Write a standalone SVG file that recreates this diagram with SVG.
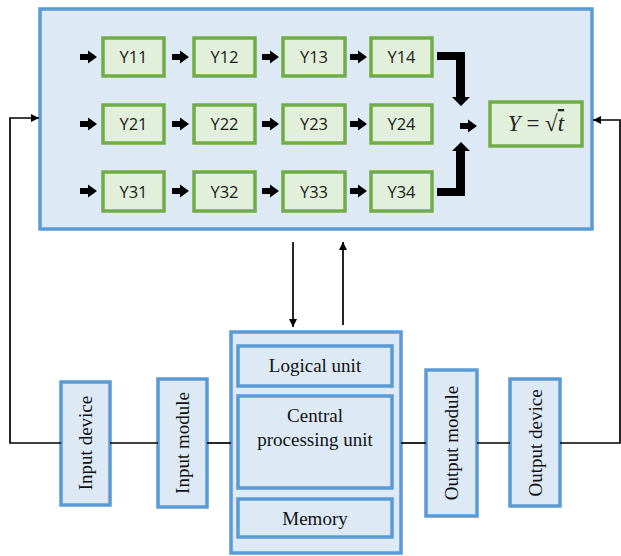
<svg xmlns="http://www.w3.org/2000/svg" width="621" height="556" viewBox="0 0 621 556">
<defs>
<style>
.blue{fill:#DDEAF6;stroke:#5B9BD5;stroke-width:3.5}
.green{fill:#E2EFDA;stroke:#70AD47;stroke-width:3.5}
.ylab{font-family:"Open Sans","Liberation Sans",sans-serif;font-size:16.5px;fill:#1a1a1a;text-anchor:middle}
.serif{font-family:"Liberation Serif","DejaVu Serif",serif;font-size:19px;fill:#111;text-anchor:middle}
.line{fill:none;stroke:#000;stroke-width:1.7}
.blk{fill:#000}
</style>
<marker id="ah" viewBox="0 0 10 10" refX="10" refY="5" markerWidth="8" markerHeight="8" orient="auto" markerUnits="userSpaceOnUse"><path d="M0,0 L10,5 L0,10 z" fill="#000"/></marker>
<path id="sa" d="M0,-3 L8,-3 L8,-6.5 L17,0 L8,6.5 L8,3 L0,3 z"/>
</defs>
<rect width="621" height="556" fill="#fff"/>

<g id="top-panel">
<rect class="blue" x="40" y="9" width="552" height="220"/>
</g>

<g id="Y11"><rect class="green" x="103" y="38" width="61" height="38"/><text class="ylab" x="133.5" y="63">Y11</text></g>
<g id="Y12"><rect class="green" x="194" y="38" width="61" height="38"/><text class="ylab" x="224.5" y="63">Y12</text></g>
<g id="Y13"><rect class="green" x="283" y="38" width="62" height="38"/><text class="ylab" x="314" y="63">Y13</text></g>
<g id="Y14"><rect class="green" x="371" y="38" width="61" height="38"/><text class="ylab" x="401.5" y="63">Y14</text></g>
<g id="Y21"><rect class="green" x="103" y="105" width="61" height="38"/><text class="ylab" x="133.5" y="130">Y21</text></g>
<g id="Y22"><rect class="green" x="194" y="105" width="61" height="38"/><text class="ylab" x="224.5" y="130">Y22</text></g>
<g id="Y23"><rect class="green" x="283" y="105" width="62" height="38"/><text class="ylab" x="314" y="130">Y23</text></g>
<g id="Y24"><rect class="green" x="371" y="105" width="61" height="38"/><text class="ylab" x="401.5" y="130">Y24</text></g>
<g id="Y31"><rect class="green" x="103" y="172" width="61" height="39"/><text class="ylab" x="133.5" y="198">Y31</text></g>
<g id="Y32"><rect class="green" x="194" y="172" width="61" height="39"/><text class="ylab" x="224.5" y="198">Y32</text></g>
<g id="Y33"><rect class="green" x="283" y="172" width="62" height="39"/><text class="ylab" x="314" y="198">Y33</text></g>
<g id="Y34"><rect class="green" x="371" y="172" width="61" height="39"/><text class="ylab" x="401.5" y="198">Y34</text></g>
<g id="Yout"><rect class="green" x="490" y="102" width="92" height="44"/><text x="536" y="131" style="font-family:'Liberation Serif','DejaVu Serif',serif;font-size:23px;fill:#222;text-anchor:middle"><tspan font-style="italic">Y</tspan> = √<tspan font-style="italic" text-decoration="overline">t</tspan></text></g>

<g id="input-device"><rect class="blue" x="61" y="382" width="49" height="123"/><text class="serif" transform="translate(92,443) rotate(-90)">Input device</text></g>
<g id="input-module"><rect class="blue" x="158" y="379" width="49" height="128"/><text class="serif" transform="translate(189,443) rotate(-90)">Input module</text></g>
<g id="cpu-block">
<rect class="blue" x="231" y="332" width="170" height="221"/>
<rect class="blue" x="238" y="346" width="154" height="40"/>
<text class="serif" x="315" y="372">Logical unit</text>
<rect class="blue" x="238" y="396" width="154" height="92"/>
<text class="serif" x="315" y="422">Central</text>
<text class="serif" x="315" y="446">processing unit</text>
<rect class="blue" x="238" y="499" width="154" height="38"/>
<text class="serif" x="315" y="525">Memory</text>
</g>
<g id="output-module"><rect class="blue" x="426" y="370" width="51" height="146"/><text class="serif" transform="translate(458,443) rotate(-90)">Output module</text></g>
<g id="output-device"><rect class="blue" x="510" y="379" width="50" height="127"/><text class="serif" transform="translate(542,443) rotate(-90)">Output device</text></g>

<g id="connectors">
<use href="#sa" transform="translate(80,57)"/>
<use href="#sa" transform="translate(172,57)"/>
<use href="#sa" transform="translate(262,57)"/>
<use href="#sa" transform="translate(350,57)"/>
<use href="#sa" transform="translate(80,124)"/>
<use href="#sa" transform="translate(172,124)"/>
<use href="#sa" transform="translate(262,124)"/>
<use href="#sa" transform="translate(350,124)"/>
<use href="#sa" transform="translate(80,191)"/>
<use href="#sa" transform="translate(172,191)"/>
<use href="#sa" transform="translate(262,191)"/>
<use href="#sa" transform="translate(350,191)"/>
<use href="#sa" transform="translate(460,126)"/>
<path class="blk" d="M437,52 L465,52 L465,97 L470,97 L461,106 L452,97 L456,97 L456,60 L437,60 z"/>
<path class="blk" d="M437,196 L465,196 L465,151 L470,151 L461,142 L452,151 L456,151 L456,188 L437,188 z"/>
<polyline class="line" points="61,443 10,443 10,118 39,118" marker-end="url(#ah)"/>
<polyline class="line" points="560,443 620,443 620,120 593,120" marker-end="url(#ah)"/>
<line class="line" x1="110" y1="443" x2="158" y2="443"/>
<line class="line" x1="207" y1="443" x2="231" y2="443"/>
<line class="line" x1="401" y1="443" x2="426" y2="443"/>
<line class="line" x1="477" y1="443" x2="510" y2="443"/>
<line class="line" x1="293" y1="242" x2="293" y2="327" marker-end="url(#ah)"/>
<line class="line" x1="343" y1="325" x2="343" y2="242" marker-end="url(#ah)"/>
</g>
</svg>
